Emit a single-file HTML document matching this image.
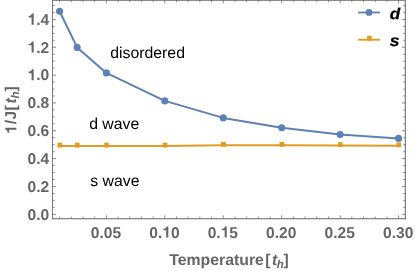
<!DOCTYPE html><html><head><meta charset="utf-8"><style>html,body{margin:0;padding:0;background:#fff;overflow:hidden}svg{display:block}text{font-family:"Liberation Sans",sans-serif;text-rendering:geometricPrecision}svg{will-change:transform}</style></head><body>
<svg width="415" height="271" viewBox="0 0 415 271">
<defs><path id="one" d="M254 0V463H69V560C174 560 258 596 276 709H390V0Z"/></defs>
<rect width="415" height="271" fill="#fff"/>
<path d="M52.5 0.2V219.2" stroke="#7d7d7d" stroke-width="1" fill="none"/>
<path d="M405.3 0.2V219.2" stroke="#666666" stroke-width="1" fill="none"/>
<path d="M52.0 218.7H405.8M52.0 0.2H405.8" stroke="#666666" stroke-width="1.05" fill="none"/>
<g stroke="#666666" stroke-width="0.75" fill="none">
<path d="M59.59 218.5v-1.9M59.59 0.2v1.9"/>
<path d="M71.28 218.5v-1.9M71.28 0.2v1.9"/>
<path d="M82.97 218.5v-1.9M82.97 0.2v1.9"/>
<path d="M94.66 218.5v-1.9M94.66 0.2v1.9"/>
<path d="M106.35 218.5v-3.2M106.35 0.2v3.2"/>
<path d="M118.04 218.5v-1.9M118.04 0.2v1.9"/>
<path d="M129.73 218.5v-1.9M129.73 0.2v1.9"/>
<path d="M141.42 218.5v-1.9M141.42 0.2v1.9"/>
<path d="M153.11 218.5v-1.9M153.11 0.2v1.9"/>
<path d="M164.80 218.5v-3.2M164.80 0.2v3.2"/>
<path d="M176.49 218.5v-1.9M176.49 0.2v1.9"/>
<path d="M188.18 218.5v-1.9M188.18 0.2v1.9"/>
<path d="M199.87 218.5v-1.9M199.87 0.2v1.9"/>
<path d="M211.56 218.5v-1.9M211.56 0.2v1.9"/>
<path d="M223.25 218.5v-3.2M223.25 0.2v3.2"/>
<path d="M234.94 218.5v-1.9M234.94 0.2v1.9"/>
<path d="M246.63 218.5v-1.9M246.63 0.2v1.9"/>
<path d="M258.32 218.5v-1.9M258.32 0.2v1.9"/>
<path d="M270.01 218.5v-1.9M270.01 0.2v1.9"/>
<path d="M281.70 218.5v-3.2M281.70 0.2v3.2"/>
<path d="M293.39 218.5v-1.9M293.39 0.2v1.9"/>
<path d="M305.08 218.5v-1.9M305.08 0.2v1.9"/>
<path d="M316.77 218.5v-1.9M316.77 0.2v1.9"/>
<path d="M328.46 218.5v-1.9M328.46 0.2v1.9"/>
<path d="M340.15 218.5v-3.2M340.15 0.2v3.2"/>
<path d="M351.84 218.5v-1.9M351.84 0.2v1.9"/>
<path d="M363.53 218.5v-1.9M363.53 0.2v1.9"/>
<path d="M375.22 218.5v-1.9M375.22 0.2v1.9"/>
<path d="M386.91 218.5v-1.9M386.91 0.2v1.9"/>
<path d="M398.60 218.5v-3.2M398.60 0.2v3.2"/>
<path d="M52.5 214.30h3.5M405.5 214.30h-3.5"/>
<path d="M52.5 207.34h2.2M405.5 207.34h-2.2"/>
<path d="M52.5 200.38h2.2M405.5 200.38h-2.2"/>
<path d="M52.5 193.42h2.2M405.5 193.42h-2.2"/>
<path d="M52.5 186.46h3.5M405.5 186.46h-3.5"/>
<path d="M52.5 179.50h2.2M405.5 179.50h-2.2"/>
<path d="M52.5 172.54h2.2M405.5 172.54h-2.2"/>
<path d="M52.5 165.58h2.2M405.5 165.58h-2.2"/>
<path d="M52.5 158.62h3.5M405.5 158.62h-3.5"/>
<path d="M52.5 151.66h2.2M405.5 151.66h-2.2"/>
<path d="M52.5 144.70h2.2M405.5 144.70h-2.2"/>
<path d="M52.5 137.74h2.2M405.5 137.74h-2.2"/>
<path d="M52.5 130.78h3.5M405.5 130.78h-3.5"/>
<path d="M52.5 123.82h2.2M405.5 123.82h-2.2"/>
<path d="M52.5 116.86h2.2M405.5 116.86h-2.2"/>
<path d="M52.5 109.90h2.2M405.5 109.90h-2.2"/>
<path d="M52.5 102.94h3.5M405.5 102.94h-3.5"/>
<path d="M52.5 95.98h2.2M405.5 95.98h-2.2"/>
<path d="M52.5 89.02h2.2M405.5 89.02h-2.2"/>
<path d="M52.5 82.06h2.2M405.5 82.06h-2.2"/>
<path d="M52.5 75.10h3.5M405.5 75.10h-3.5"/>
<path d="M52.5 68.14h2.2M405.5 68.14h-2.2"/>
<path d="M52.5 61.18h2.2M405.5 61.18h-2.2"/>
<path d="M52.5 54.22h2.2M405.5 54.22h-2.2"/>
<path d="M52.5 47.26h3.5M405.5 47.26h-3.5"/>
<path d="M52.5 40.30h2.2M405.5 40.30h-2.2"/>
<path d="M52.5 33.34h2.2M405.5 33.34h-2.2"/>
<path d="M52.5 26.38h2.2M405.5 26.38h-2.2"/>
<path d="M52.5 19.42h3.5M405.5 19.42h-3.5"/>
<path d="M52.5 12.46h2.2M405.5 12.46h-2.2"/>
<path d="M52.5 5.50h2.2M405.5 5.50h-2.2"/>
</g>
<g fill="#666666" font-weight="bold" font-size="15.6">
<text x="49.3" y="219.55" text-anchor="end">0.0</text>
<text x="49.3" y="191.71" text-anchor="end">0.2</text>
<text x="49.3" y="163.87" text-anchor="end">0.4</text>
<text x="49.3" y="136.03" text-anchor="end">0.6</text>
<text x="49.3" y="108.19" text-anchor="end">0.8</text>
<use href="#one" transform="translate(27.62,80.35) scale(0.01560,-0.01560)"/>
<text x="36.29" y="80.35">.0</text>
<use href="#one" transform="translate(27.62,52.51) scale(0.01560,-0.01560)"/>
<text x="36.29" y="52.51">.2</text>
<use href="#one" transform="translate(27.62,24.67) scale(0.01560,-0.01560)"/>
<text x="36.29" y="24.67">.4</text>
<text x="105.95" y="237.5" text-anchor="middle">0.05</text>
<text x="149.22" y="237.5">0.</text>
<use href="#one" transform="translate(162.23,237.50) scale(0.01560,-0.01560)"/>
<text x="170.91" y="237.5">0</text>
<text x="207.67" y="237.5">0.</text>
<use href="#one" transform="translate(220.68,237.50) scale(0.01560,-0.01560)"/>
<text x="229.36" y="237.5">5</text>
<text x="281.30" y="237.5" text-anchor="middle">0.20</text>
<text x="339.75" y="237.5" text-anchor="middle">0.25</text>
<text x="398.20" y="237.5" text-anchor="middle">0.30</text>
</g>
<polyline fill="none" stroke="#e19c24" stroke-width="2" points="59.59,146.05 77.12,146.05 106.35,146.05 164.80,146.05 223.25,145.30 281.70,145.30 340.15,145.60 398.60,145.80"/>
<rect x="57.44" y="142.65" width="4.7" height="4.9" fill="#e19c24"/>
<rect x="74.97" y="142.65" width="4.7" height="4.9" fill="#e19c24"/>
<rect x="104.20" y="142.65" width="4.7" height="4.9" fill="#e19c24"/>
<rect x="162.65" y="142.65" width="4.7" height="4.9" fill="#e19c24"/>
<rect x="221.10" y="141.90" width="4.7" height="4.9" fill="#e19c24"/>
<rect x="279.55" y="141.90" width="4.7" height="4.9" fill="#e19c24"/>
<rect x="338.00" y="142.20" width="4.7" height="4.9" fill="#e19c24"/>
<rect x="396.45" y="142.40" width="4.7" height="4.9" fill="#e19c24"/>
<polyline fill="none" stroke="#5e81b5" stroke-width="2" stroke-linejoin="round" points="59.59,11.30 77.12,47.40 106.35,72.90 164.80,100.90 223.25,117.90 281.70,127.80 340.15,134.60 398.60,138.40"/>
<circle cx="59.59" cy="11.3" r="3.55" fill="#5e81b5"/>
<circle cx="77.12" cy="47.4" r="3.55" fill="#5e81b5"/>
<circle cx="106.35" cy="72.9" r="3.55" fill="#5e81b5"/>
<circle cx="164.80" cy="100.9" r="3.55" fill="#5e81b5"/>
<circle cx="223.25" cy="117.9" r="3.55" fill="#5e81b5"/>
<circle cx="281.70" cy="127.8" r="3.55" fill="#5e81b5"/>
<circle cx="340.15" cy="134.6" r="3.55" fill="#5e81b5"/>
<circle cx="398.60" cy="138.4" r="3.55" fill="#5e81b5"/>
<g fill="#000" font-size="15.8">
<text x="110.3" y="57.5">disordered</text>
<text x="89.2" y="129.2">d wave</text>
<text x="90.3" y="185.8">s wave</text>
</g>
<path d="M358.1 12.5H380" stroke="#5e81b5" stroke-width="1.8"/><circle cx="369" cy="12.4" r="3.4" fill="#5e81b5"/>
<path d="M358.1 39.7H380" stroke="#e19c24" stroke-width="1.9"/><rect x="367.05" y="35.80" width="4.7" height="4.9" fill="#e19c24"/>
<g fill="#000" font-weight="bold" font-style="italic" font-size="15.6">
<text transform="translate(389.7,18.7) scale(1.1,1)" stroke="#000" stroke-width="0.25">d</text><text transform="translate(389.8,45.5) scale(1.12,1.03)" stroke="#000" stroke-width="0.25">s</text></g>
<g fill="#666666" font-weight="bold" font-size="15.6">
<text x="169.3" y="264.7" font-size="15.8">Temperature</text>
<text x="265.2" y="264.7">[</text>
<text x="272.0" y="264.7" font-style="italic">t</text>
<text x="276.8" y="267.7" font-style="italic" font-size="11.5">h</text>
<text x="283.5" y="264.7">]</text>
<g transform="translate(16.4,0) rotate(-90)">
<use href="#one" transform="translate(-133.80,0.00) scale(0.01560,-0.01560)"/><text x="-124.3" y="0">/</text><text x="-119.4" y="0">J</text>
<text x="-110.5" y="0">[</text>
<text x="-103.5" y="0" font-style="italic">t</text>
<text x="-98.6" y="2.7" font-style="italic" font-size="11.5">h</text>
<text x="-91.6" y="0">]</text>
</g></g>
</svg></body></html>
